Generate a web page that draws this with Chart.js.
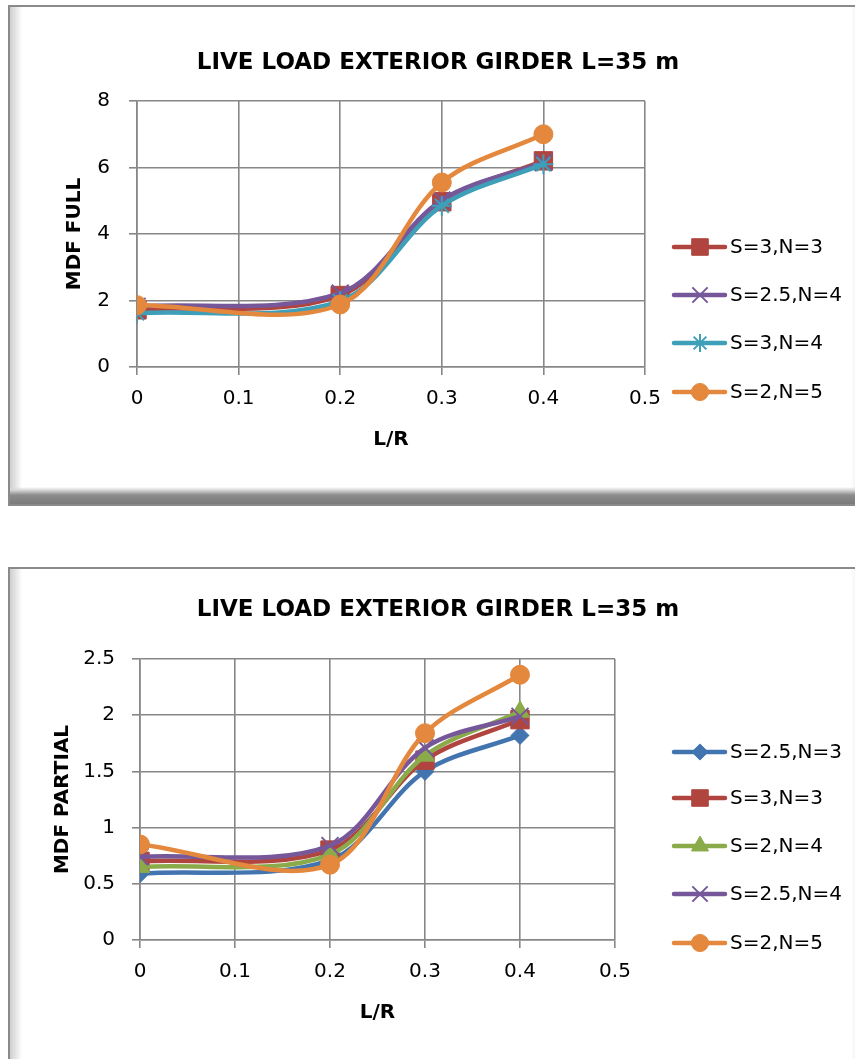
<!DOCTYPE html>
<html>
<head>
<meta charset="utf-8">
<script src="https://cdn.jsdelivr.net/npm/chart.js@4.4.1/dist/chart.umd.min.js"></script>
<style>
    html, body { margin: 0; padding: 0; background: #fff; }
    body { width: 855px; height: 1059px; position: relative; overflow: hidden; }
    .frame {
        position: absolute; left: 8px; width: 870px;
        border: 2px solid #8a8a8a; box-sizing: border-box;
        background:
            linear-gradient(to top, #7a7a7a 0px, #8c8c8c 9px, #d8d8d8 14px, rgba(255,255,255,0) 17px) bottom / 100% 17px no-repeat,
            linear-gradient(to right, #cfcfcf 0px, #e6e6e6 6px, #fff 12px) left / 12px 100% no-repeat,
            linear-gradient(to left, #e4e4e4 0px, #fff 10px) right 15px top / 10px 100% no-repeat,
            #fff;
    }
    .wrap { position: absolute; left: 0; width: 855px; }
</style>
</head>
<body>
<div class="frame" style="top:5px;height:501px;"></div>
<div class="frame" style="top:567px;height:520px;"></div>
<div class="wrap" style="top:0;height:505px;"><canvas id="fullChart" width="855" height="505"></canvas></div>
<div class="wrap" style="top:567px;height:492px;"><canvas id="partialChart" width="855" height="492"></canvas></div>
<script>
// L/R positions of the points
var lrValues = [0, 0.2, 0.3, 0.4];
var xTickLabels = ['0', '0.1', '0.2', '0.3', '0.4', '0.5'];

// MDF FULL
var fullS3N3 = [1.72, 2.15, 4.97, 6.2];
var fullS25N4 = [1.82, 2.22, 5.02, 6.15];
var fullS3N4 = [1.62, 1.98, 4.85, 6.1];
var fullS2N5 = [1.86, 1.88, 5.55, 7.0];
var fullYTicks = ['0', '2', '4', '6', '8'];

// MDF PARTIAL
var partS25N3 = [0.59, 0.71, 1.50, 1.82];
var partS3N3 = [0.70, 0.80, 1.60, 1.96];
var partS2N4 = [0.65, 0.76, 1.64, 2.03];
var partS25N4 = [0.74, 0.84, 1.71, 1.99];
var partS2N5 = [0.85, 0.67, 1.84, 2.36];
var partYTicks = ['0', '0.5', '1', '1.5', '2', '2.5'];

var chartTitle = 'LIVE LOAD EXTERIOR GIRDER L=35 m';

var styles = {
    'S=2.5,N=3': { color: '#4274AF', pointStyle: 'rectRot', radius: 9 },
    'S=3,N=3': { color: '#B0443F', pointStyle: 'rect', radius: 13 },
    'S=2,N=4': { color: '#8BAA4A', pointStyle: 'triangle', radius: 11 },
    'S=2.5,N=4': { color: '#76589A', pointStyle: 'crossRot', radius: 12 },
    'S=3,N=4': { color: '#3E9FB8', pointStyle: 'star', radius: 10 },
    'S=2,N=5': { color: '#E3883D', pointStyle: 'circle', radius: 9.5 }
};

var gridColor = '#878787';
var fontFamily = '"DejaVu Sans", sans-serif';

function toPoints(values) {
    return values.map(function (v, i) { return { x: lrValues[i], y: v }; });
}

function makeDataset(label, values, index, total) {
    var s = styles[label];
    var thin = s.pointStyle == 'crossRot' || s.pointStyle == 'star';
    return {
        label: label,
        data: toPoints(values),
        borderColor: s.color,
        backgroundColor: s.color,
        borderWidth: 4.5,
        tension: 0.33,
        pointStyle: s.pointStyle,
        pointRadius: s.radius,
        pointHoverRadius: s.radius,
        pointBorderWidth: thin ? 2 : 1,
        pointBackgroundColor: s.color,
        pointBorderColor: s.color,
        order: total - index
    };
}

// title and legend like excel: line with the marker in the middle
var excelDecor = {
    id: 'excelDecor',
    afterDraw: function (chart, args, opts) {
        var ctx = chart.ctx;
        ctx.save();
        ctx.fillStyle = '#000';
        ctx.textAlign = 'center';
        ctx.textBaseline = 'middle';
        ctx.font = 'bold 23px ' + fontFamily;
        ctx.fillText(chartTitle, opts.titleX, opts.titleY);

        ctx.font = '20px ' + fontFamily;
        ctx.textAlign = 'left';
        chart.data.datasets.forEach(function (ds, i) {
            var y = opts.legendY[i];
            ctx.strokeStyle = ds.borderColor;
            ctx.lineWidth = 4.5;
            ctx.lineCap = 'round';
            ctx.beginPath();
            ctx.moveTo(674, y);
            ctx.lineTo(725, y);
            ctx.stroke();
            ctx.fillStyle = ds.borderColor;
            ctx.strokeStyle = ds.borderColor;
            ctx.lineWidth = ds.pointBorderWidth;
            ctx.lineCap = 'butt';
            Chart.helpers.drawPoint(ctx, {
                pointStyle: ds.pointStyle,
                radius: ds.pointRadius * 0.9,
                borderWidth: ds.pointBorderWidth,
                rotation: 0
            }, 700, y);
            ctx.fillStyle = '#000';
            ctx.fillText(ds.label, 730, y + 1);
        });
        ctx.restore();
    }
};

function makeChart(id, datasets, cfg) {
    var ctx = document.getElementById(id);
    return new Chart(ctx, {
        type: 'line',
        data: { datasets: datasets },
        plugins: [excelDecor],
        options: {
            responsive: false,
            animation: false,
            layout: { padding: { top: cfg.plotTop, right: cfg.padRight, left: 0, bottom: 0 } },
            plugins: {
                legend: { display: false },
                title: { display: false },
                tooltip: { enabled: false },
                excelDecor: { titleX: 438, titleY: cfg.titleY, legendY: cfg.legendY }
            },
            scales: {
                x: {
                    type: 'linear',
                    min: 0, max: 0.5,
                    afterFit: function (axis) { axis.height = cfg.xAxisHeight; },
                    ticks: {
                        stepSize: 0.1,
                        color: '#000',
                        padding: 12,
                        font: { family: fontFamily, size: 20 },
                        callback: function (v, i) { return xTickLabels[i]; }
                    },
                    grid: { color: gridColor, lineWidth: 1.6, tickLength: 8 },
                    border: { color: gridColor, width: 1.6 },
                    title: {
                        display: true, text: 'L/R', color: '#000',
                        font: { family: fontFamily, size: 20, weight: 'bold' },
                        padding: { top: 0, bottom: cfg.xTitlePad }
                    }
                },
                y: {
                    min: 0, max: cfg.yMax,
                    afterFit: function (axis) { axis.width = cfg.plotLeft; },
                    ticks: {
                        stepSize: cfg.yStep,
                        color: '#000',
                        padding: cfg.yTickPad,
                        font: { family: fontFamily, size: 20 },
                        callback: function (v, i) { return cfg.yTicks[i]; }
                    },
                    grid: { color: gridColor, lineWidth: 1.6, tickLength: 8 },
                    border: { color: gridColor, width: 1.6 },
                    title: {
                        display: true, text: cfg.yTitle, color: '#000',
                        font: { family: fontFamily, size: 20, weight: 'bold' },
                        padding: { top: cfg.yTitlePad, bottom: 0 }
                    }
                }
            }
        }
    });
}

var fullLabels = ['S=3,N=3', 'S=2.5,N=4', 'S=3,N=4', 'S=2,N=5'];
var fullValues = [fullS3N3, fullS25N4, fullS3N4, fullS2N5];
var partLabels = ['S=2.5,N=3', 'S=3,N=3', 'S=2,N=4', 'S=2.5,N=4', 'S=2,N=5'];
var partValues = [partS25N3, partS3N3, partS2N4, partS25N4, partS2N5];

var fullChart = makeChart('fullChart', fullLabels.map(function (l, i) {
    return makeDataset(l, fullValues[i], i, fullLabels.length);
}), {
    plotTop: 101, plotLeft: 137, padRight: 210, xAxisHeight: 138,
    yMax: 8, yStep: 2, yTicks: fullYTicks, yTitle: 'MDF FULL',
    yTickPad: 19, yTitlePad: 63, xTitlePad: 53,
    titleY: 63, legendY: [247, 295, 343, 392]
});

var partialChart = makeChart('partialChart', partLabels.map(function (l, i) {
    return makeDataset(l, partValues[i], i, partLabels.length);
}), {
    plotTop: 92, plotLeft: 140, padRight: 240, xAxisHeight: 119,
    yMax: 2.5, yStep: 0.5, yTicks: partYTicks, yTitle: 'MDF PARTIAL',
    yTickPad: 17, yTitlePad: 51, xTitlePad: 34,
    titleY: 43, legendY: [185, 231, 279, 327, 376]
});
</script>
</body>
</html>
